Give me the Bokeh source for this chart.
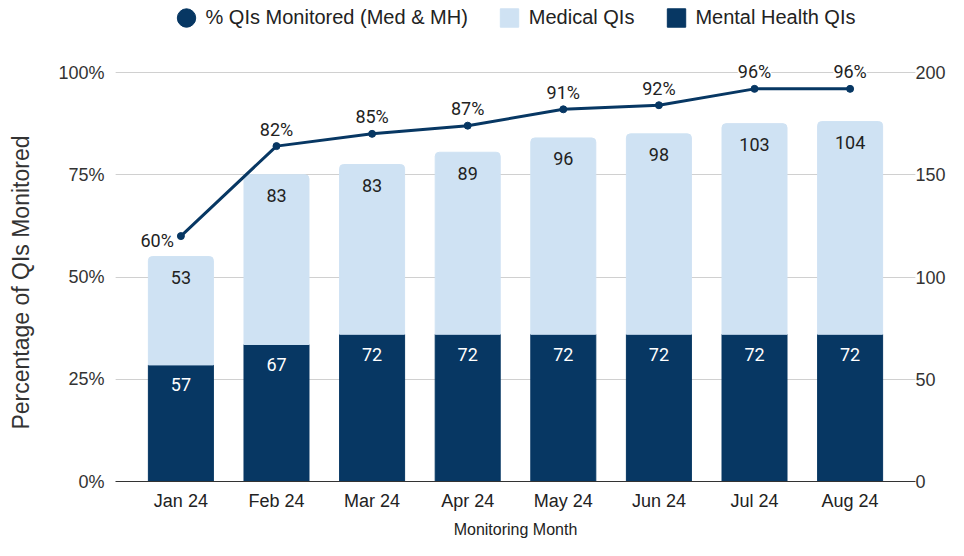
from bokeh.plotting import figure
from bokeh.models import (ColumnDataSource, FactorRange, Range1d, LinearAxis, FixedTicker,
                          PrintfTickFormatter, Grid, LabelSet, Legend, LegendItem)
from bokeh.core.properties import value
from bokeh.embed import file_html
from bokeh.resources import INLINE

months = ["Jan 24", "Feb 24", "Mar 24", "Apr 24", "May 24", "Jun 24", "Jul 24", "Aug 24"]
mental_health = [57, 67, 72, 72, 72, 72, 72, 72]
medical = [53, 83, 83, 89, 96, 98, 103, 104]
pct_monitored = [60, 82, 85, 87, 91, 92, 96, 96]
pct_ticks = [0, 25, 50, 75, 100]
count_ticks = [0, 50, 100, 150, 200]

NAVY = "#073763"
LIGHT = "#cfe2f3"
AX_FONT = "Liberation Sans"
LBL_FONT = "Roboto"

# the frame spans the whole top of the canvas (legend sits inside it);
# the 0..200 scale occupies its lower 409 px
FRAME_H = 481
SCALE_H = 409
count_end = 200 * FRAME_H / SCALE_H
pct_end = 100 * FRAME_H / SCALE_H

totals = [a + b for a, b in zip(mental_health, medical)]
src = ColumnDataSource(dict(
    month=months, mh=mental_health, med=medical, total=totals,
    pct=pct_monitored,
    mh_txt=[str(v) for v in mental_health], med_txt=[str(v) for v in medical],
))

p = figure(width=948, height=540, output_backend="svg", toolbar_location=None,
           x_range=FactorRange(factors=months, range_padding=0.046),
           y_range=Range1d(0, count_end), y_axis_location=None,
           min_border_left=115, min_border_right=30, min_border_top=0, min_border_bottom=59)
p.extra_y_ranges = {"pct": Range1d(0, pct_end)}
p.outline_line_color = None
p.xgrid.grid_line_color = None

grid = Grid(dimension=1, ticker=FixedTicker(ticks=count_ticks), grid_line_color="#d0d0d0",
            grid_line_width=1)
p.add_layout(grid)

# trailing no-break spaces move the centred title down to the middle of the 0-100% scale
left = LinearAxis(y_range_name="pct", ticker=FixedTicker(ticks=pct_ticks),
                  formatter=PrintfTickFormatter(format="%d%%"),
                  axis_label="Percentage of QIs Monitored" + "\u00a0" * 13)
right = LinearAxis(ticker=FixedTicker(ticks=count_ticks))
for ax in (left, right):
    ax.axis_line_color = None
    ax.major_tick_line_color = None
    ax.minor_tick_line_color = None
    ax.major_tick_out = 0
    ax.major_tick_in = 0
    ax.major_label_text_font = AX_FONT
    ax.major_label_text_font_size = "18px"
    ax.major_label_text_color = "#333333"
left.major_label_standoff = 11
right.major_label_standoff = 0
left.axis_label_text_font = AX_FONT
left.axis_label_text_font_size = "23px"
left.axis_label_text_font_style = "normal"
left.axis_label_text_color = "#333333"
left.axis_label_standoff = 21
p.add_layout(left, "left")
p.add_layout(right, "right")

xa = p.xaxis[0]
xa.axis_line_color = "#333333"
xa.axis_line_width = 1
xa.major_tick_line_color = None
xa.minor_tick_line_color = None
xa.major_tick_out = 0
xa.major_tick_in = 0
xa.major_label_text_font = AX_FONT
xa.major_label_text_font_size = "18px"
xa.major_label_text_color = "#222222"
xa.major_label_standoff = 9
xa.axis_label = "Monitoring Month"
xa.axis_label_text_font = AX_FONT
xa.axis_label_text_font_size = "16px"
xa.axis_label_text_font_style = "normal"
xa.axis_label_text_color = "#222222"
xa.axis_label_standoff = 7

mh_r = p.vbar(x="month", bottom=0, top="mh", width=0.68, source=src,
              fill_color=NAVY, line_color=NAVY)
med_r = p.vbar(x="month", bottom="mh", top="total", width=0.68, source=src,
               fill_color=LIGHT, line_color=LIGHT, border_radius=(4, 4, 0, 0))

p.line(x="month", y="pct", source=src, y_range_name="pct", line_color=NAVY, line_width=3)
pt_r = p.ellipse(x="month", y="pct", width=7, height=7, width_units="screen",
                 height_units="screen", source=src, y_range_name="pct",
                 fill_color=NAVY, line_color=NAVY)

lbl_kw = dict(text_font=value(LBL_FONT), text_font_size=value("18px"),
              text_align=value("center"), text_baseline=value("middle"))
p.add_layout(LabelSet(x="month", y="total", text="med_txt", source=src, y_offset=-21,
                      text_color=value("#222222"), **lbl_kw))
p.add_layout(LabelSet(x="month", y="mh", text="mh_txt", source=src, y_offset=-20,
                      text_color=value("white"), **lbl_kw))

first = ColumnDataSource(dict(month=months[:1], pct=pct_monitored[:1],
                              pct_txt=[f"{v}%" for v in pct_monitored[:1]]))
rest = ColumnDataSource(dict(month=months[1:], pct=pct_monitored[1:],
                             pct_txt=[f"{v}%" for v in pct_monitored[1:]]))
p.add_layout(LabelSet(x="month", y="pct", text="pct_txt", source=rest, y_range_name="pct",
                      y_offset=17, text_color=value("#222222"),
                      background_fill_color=value("white"), **lbl_kw))
p.add_layout(LabelSet(x="month", y="pct", text="pct_txt", source=first, y_range_name="pct",
                      x_offset=-7, y_offset=-4, text_color=value("#222222"),
                      text_font=value(LBL_FONT), text_font_size=value("18px"),
                      text_align=value("right"), text_baseline=value("middle")))

legend = Legend(items=[
    LegendItem(label="% QIs Monitored (Med & MH)", renderers=[pt_r]),
    LegendItem(label="Medical QIs", renderers=[med_r]),
    LegendItem(label="Mental Health QIs", renderers=[mh_r]),
], orientation="horizontal", location="top_center", glyph_width=23, glyph_height=23,
    label_standoff=8, spacing=30, padding=0, margin=6,
    border_line_color=None, background_fill_alpha=0,
    label_text_font=AX_FONT, label_text_font_size="20px", label_text_color="#222222",
    label_height=23)
p.add_layout(legend, "center")

open("out.html", "w").write(file_html(p, INLINE))
